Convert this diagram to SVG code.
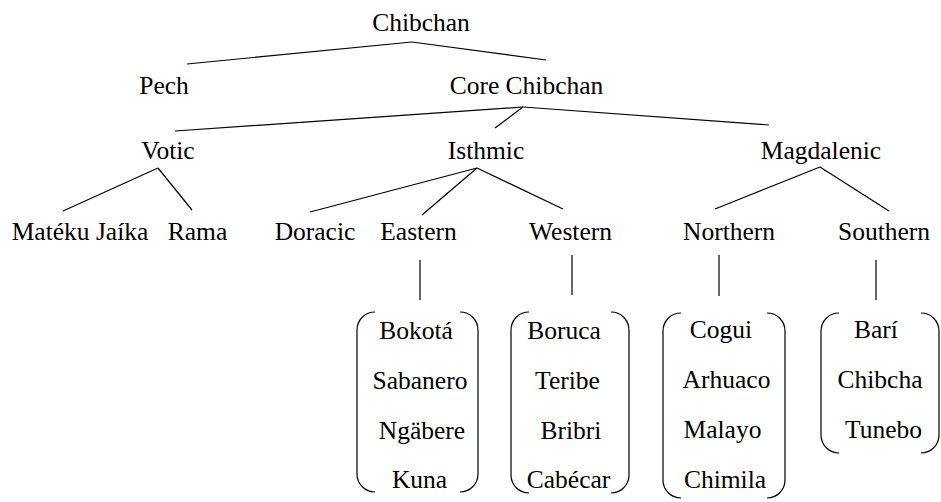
<svg xmlns="http://www.w3.org/2000/svg" width="941" height="502" viewBox="0 0 941 502">
<style>
text{font-family:'Liberation Serif','Times New Roman',serif !important;font-size:25.5px;fill:#000;text-anchor:middle}
.c line{stroke:#000;stroke-width:1.2;fill:none}
.b{stroke:#000;stroke-width:1.2;fill:none}
</style>
<rect width="941" height="502" fill="#fff"/>
<g class="c" id="connectors">
<line x1="412" y1="42" x2="187" y2="64"/>
<line x1="412" y1="42" x2="546" y2="60"/>
<line x1="523" y1="107" x2="175" y2="131"/>
<line x1="523" y1="107" x2="495" y2="128"/>
<line x1="523" y1="107" x2="769" y2="125"/>
<line x1="158" y1="168" x2="63" y2="211"/>
<line x1="158" y1="168" x2="192" y2="210"/>
<line x1="477" y1="168" x2="310" y2="212"/>
<line x1="477" y1="168" x2="422" y2="215"/>
<line x1="477" y1="168" x2="563" y2="209"/>
<line x1="820" y1="167" x2="715" y2="209"/>
<line x1="820" y1="167" x2="889" y2="211"/>
<line x1="420" y1="260" x2="420" y2="300"/>
<line x1="572" y1="255" x2="572" y2="295"/>
<line x1="719" y1="255" x2="719" y2="296"/>
<line x1="876" y1="260" x2="876" y2="300"/>
</g>
<g id="chibchan"><text style="font-family:'Liberation Serif',serif !important" x="421" y="31">Chibchan</text></g>
<g id="pech"><text style="font-family:'Liberation Serif',serif !important" x="164" y="94">Pech</text></g>
<g id="core"><text style="font-family:'Liberation Serif',serif !important" x="526.5" y="94">Core Chibchan</text></g>
<g id="votic"><text style="font-family:'Liberation Serif',serif !important" x="168" y="159">Votic</text></g>
<g id="isthmic"><text style="font-family:'Liberation Serif',serif !important" x="486" y="159">Isthmic</text></g>
<g id="magdalenic"><text style="font-family:'Liberation Serif',serif !important" x="821" y="159">Magdalenic</text></g>
<g id="mateku"><text style="font-family:'Liberation Serif',serif !important" x="80" y="240">Matéku Jaíka</text></g>
<g id="rama"><text style="font-family:'Liberation Serif',serif !important" x="197.5" y="240">Rama</text></g>
<g id="doracic"><text style="font-family:'Liberation Serif',serif !important" x="315" y="240">Doracic</text></g>
<g id="eastern"><text style="font-family:'Liberation Serif',serif !important" x="418.5" y="240">Eastern</text></g>
<g id="western"><text style="font-family:'Liberation Serif',serif !important" x="570.5" y="240">Western</text></g>
<g id="northern"><text style="font-family:'Liberation Serif',serif !important" x="729" y="240">Northern</text></g>
<g id="southern"><text style="font-family:'Liberation Serif',serif !important" x="884" y="240">Southern</text></g>
<g id="eastern-list">
<path class="b" d="M375 312 A18 18 0 0 0 357 330 L357 474 A18 18 0 0 0 375 492"/>
<path class="b" d="M460 312 A18 18 0 0 1 478 330 L478 474 A18 18 0 0 1 460 492"/>
<text style="font-family:'Liberation Serif',serif !important" x="416" y="339">Bokotá</text>
<text style="font-family:'Liberation Serif',serif !important" x="420" y="389">Sabanero</text>
<text style="font-family:'Liberation Serif',serif !important" x="422" y="439">Ngäbere</text>
<text style="font-family:'Liberation Serif',serif !important" x="419.5" y="488">Kuna</text>
</g>
<g id="western-list">
<path class="b" d="M529 312 A18 18 0 0 0 511 330 L511 475 A18 18 0 0 0 529 493"/>
<path class="b" d="M611 312 A18 18 0 0 1 629 330 L629 475 A18 18 0 0 1 611 493"/>
<text style="font-family:'Liberation Serif',serif !important" x="564" y="339">Boruca</text>
<text style="font-family:'Liberation Serif',serif !important" x="567.5" y="389">Teribe</text>
<text style="font-family:'Liberation Serif',serif !important" x="571" y="439">Bribri</text>
<text style="font-family:'Liberation Serif',serif !important" x="568.5" y="488">Cabécar</text>
</g>
<g id="northern-list">
<path class="b" d="M681 313 A18 18 0 0 0 663 331 L663 480 A18 18 0 0 0 681 498"/>
<path class="b" d="M767 313 A18 18 0 0 1 785 331 L785 480 A18 18 0 0 1 767 498"/>
<text style="font-family:'Liberation Serif',serif !important" x="721" y="338">Cogui</text>
<text style="font-family:'Liberation Serif',serif !important" x="726.5" y="388">Arhuaco</text>
<text style="font-family:'Liberation Serif',serif !important" x="722.5" y="438">Malayo</text>
<text style="font-family:'Liberation Serif',serif !important" x="725" y="488">Chimila</text>
</g>
<g id="southern-list">
<path class="b" d="M839 313 A18 18 0 0 0 821 331 L821 435 A18 18 0 0 0 839 453"/>
<path class="b" d="M921 313 A18 18 0 0 1 939 331 L939 435 A18 18 0 0 1 921 453"/>
<text style="font-family:'Liberation Serif',serif !important" x="876" y="338">Barí</text>
<text style="font-family:'Liberation Serif',serif !important" x="880" y="388">Chibcha</text>
<text style="font-family:'Liberation Serif',serif !important" x="883.5" y="438">Tunebo</text>
</g>
</svg>
